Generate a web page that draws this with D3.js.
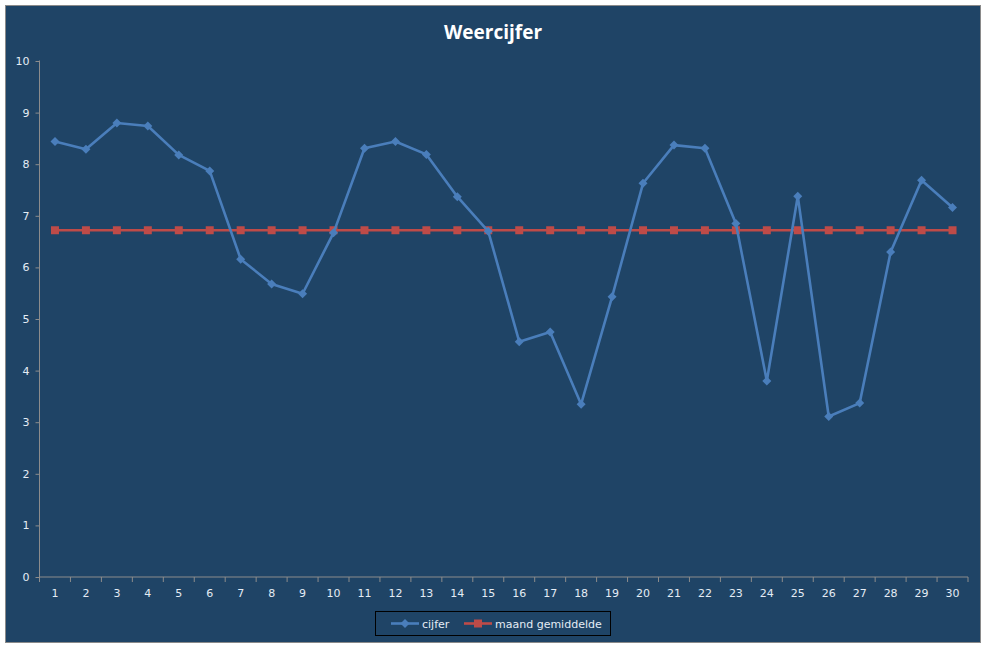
<!DOCTYPE html>
<html><head><meta charset="utf-8">
<script src="https://cdn.jsdelivr.net/npm/d3@7"></script>
<style>body{margin:0;background:#fff;}svg{display:block;}</style>
</head><body>
<svg id="c" width="987" height="648"></svg>
<script>
const days = d3.range(1, 31).map(String);
const cijfer = [8.44,8.29,8.80,8.74,8.18,7.87,6.16,5.68,5.49,6.67,
                8.31,8.44,8.19,7.37,6.70,4.56,4.75,3.35,5.43,7.63,
                8.37,8.31,6.85,3.80,7.38,3.11,3.37,6.30,7.69,7.16];
const gemiddelde = days.map(() => 6.72);
const yTicks = [0,1,2,3,4,5,6,7,8,9,10];
const title = "Weercijfer";
const seriesNames = ["cijfer", "maand gemiddelde"];

const svg = d3.select("#c");
const bg = "#1f4466", txt = "#e4ecf5", axisCol = "#8c8c8c";
const blue = "#4a7ebb", red = "#be4b48";

svg.append("rect").attr("x",5.5).attr("y",5.5).attr("width",975).attr("height",637)
  .attr("fill",bg).attr("stroke","#8a8a8a").attr("stroke-width",1);

const m = {l:39.5, r:968, t:61, b:577};
const x = d3.scaleBand().domain(days).range([m.l, m.r]);
const y = d3.scaleLinear().domain([0,10]).range([m.b, m.t]);

svg.append("text").attr("x",493).attr("y",39).attr("text-anchor","middle")
  .attr("fill","#fff").attr("font-family","'Open Sans', sans-serif").attr("font-weight","bold")
  .attr("font-size",19).text(title);

const fnt = "'DejaVu Sans', sans-serif", fs = 11;

// y axis
const ya = svg.append("g").attr("transform",`translate(${m.l},0)`)
  .call(d3.axisLeft(y).tickValues(yTicks).tickSize(4).tickPadding(6).tickFormat(d3.format("d")));
ya.select(".domain").attr("stroke",axisCol).attr("d",`M-0,${m.b}V${m.t-0.5}`);
ya.selectAll(".tick line").attr("stroke",axisCol);
ya.selectAll("text").attr("fill",txt).attr("font-family",fnt).attr("font-size",fs);

// x axis
const xa = svg.append("g").attr("transform",`translate(0,${m.b})`)
  .call(d3.axisBottom(x).tickSize(0).tickPadding(12));
xa.select(".domain").attr("stroke",axisCol).attr("d",`M${m.l},0H${m.r}`);
xa.selectAll("text").attr("fill",txt).attr("font-family",fnt).attr("font-size",fs);
xa.selectAll("line.bt").data(d3.range(0,31)).join("line").attr("class","bt")
  .attr("x1",i=>m.l + i*x.step()).attr("x2",i=>m.l + i*x.step())
  .attr("y1",0).attr("y2",5).attr("stroke",axisCol);

const cx = d => x(d) + x.bandwidth()/2;
const line = d3.line().x((v,i)=>cx(days[i])).y(v=>y(v));
const dia = "M0,-4.5L4.5,0L0,4.5L-4.5,0Z";

svg.append("path").datum(gemiddelde).attr("d",line).attr("fill","none")
  .attr("stroke",red).attr("stroke-width",2.6);
svg.selectAll("rect.sq").data(gemiddelde).join("rect").attr("class","sq")
  .attr("x",(v,i)=>cx(days[i])-4).attr("y",v=>y(v)-4).attr("width",8).attr("height",8).attr("fill",red);

svg.append("path").datum(cijfer).attr("d",line).attr("fill","none")
  .attr("stroke",blue).attr("stroke-width",2.6).attr("stroke-linejoin","round");
svg.selectAll("path.dm").data(cijfer).join("path").attr("class","dm")
  .attr("transform",(v,i)=>`translate(${cx(days[i])},${y(v)})`).attr("d",dia).attr("fill",blue);

// legend
const lg = svg.append("g");
lg.append("rect").attr("x",375.5).attr("y",611.5).attr("width",235).attr("height",24)
  .attr("fill","none").attr("stroke","#000").attr("stroke-width",1);
const ly = 623.5;
lg.append("line").attr("x1",391).attr("x2",419).attr("y1",ly).attr("y2",ly).attr("stroke",blue).attr("stroke-width",2.6);
lg.append("path").attr("transform",`translate(405,${ly})`).attr("d",dia).attr("fill",blue);
lg.append("text").attr("x",422).attr("y",ly+4).attr("fill",txt).attr("font-family",fnt)
  .attr("font-size",fs).text(seriesNames[0]);
lg.append("line").attr("x1",464).attr("x2",492).attr("y1",ly).attr("y2",ly).attr("stroke",red).attr("stroke-width",2.6);
lg.append("rect").attr("x",474).attr("y",ly-4).attr("width",8).attr("height",8).attr("fill",red);
lg.append("text").attr("x",495).attr("y",ly+4).attr("fill",txt).attr("font-family",fnt)
  .attr("font-size",fs).text(seriesNames[1]);
</script>
</body></html>
